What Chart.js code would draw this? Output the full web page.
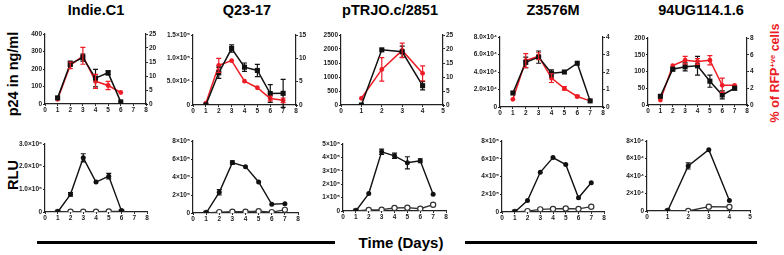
<!DOCTYPE html>
<html><head><meta charset="utf-8">
<script src="https://cdn.jsdelivr.net/npm/chart.js@4"></script>
<style>
body{margin:0;width:784px;height:255px;background:#fff;position:relative;overflow:hidden;font-family:'Liberation Sans',Arial,sans-serif;}
canvas{position:absolute;}
.t{position:absolute;font-weight:bold;white-space:nowrap;transform:translate(-50%,-50%);color:#000;line-height:1;}
.r{transform:translate(-50%,-50%) rotate(-90deg);}
.hl{position:absolute;height:3px;background:#000;}
sup{font-size:60%;vertical-align:55%;}
</style></head><body>
<div class="t" style="left:96px;top:10px;font-size:14.5px">Indie.C1</div>
<div class="t" style="left:247px;top:10px;font-size:14.5px">Q23-17</div>
<div class="t" style="left:390px;top:10px;font-size:14.5px">pTRJO.c/2851</div>
<div class="t" style="left:553px;top:10px;font-size:14.5px">Z3576M</div>
<div class="t" style="left:701px;top:10px;font-size:14.5px">94UG114.1.6</div>
<div class="t r" style="left:13px;top:74px;font-size:14.5px">p24 in ng/ml</div>
<div class="t r" style="left:13px;top:175px;font-size:14.5px">RLU</div>
<div class="t r" style="left:775px;top:73px;font-size:12.5px;color:#ee1c25">% of RFP<sup>+ve</sup> cells</div>
<div class="hl" style="left:37px;top:241px;width:298px"></div>
<div class="hl" style="left:465px;top:241px;width:292px"></div>
<div class="t" style="left:401px;top:242px;font-size:15px">Time (Days)</div>

<script>
// ---------- DATA ----------
const days4 = [1,2,3,4];
const days6 = [1,2,3,4,5,6];
const days7 = [1,2,3,4,5,6,7];

// Indie.C1
const indieP24     = [35,230,265,148,178,12];
const indieP24Err  = [0,15,20,50,12,0];
const indieRFP     = [1.7,13.8,17.2,8.1,6.6,4.1];
const indieRFPErr  = [0,1.2,3,2.5,1.5,0];
const indieRLU     = [0,0.78e6,2.39e6,1.32e6,1.58e6,0.05e6];
const indieRLUErr  = [0,0.08e6,0.18e6,0,0.12e6,0];
const indieRLUCtl  = [0,0.01e6,0.01e6,0.01e6,0.02e6,0.02e6];

// Q23-17
const q23P24      = [0,6.9e4,1.21e5,8.1e4,7.4e4,2.45e4,2.5e4];
const q23P24Err   = [0,1.2e4,0.8e4,0.9e4,1.3e4,1.9e4,3e4];
const q23RFP      = [0.4,8.5,9.5,5.1,3.7,1.4,1.0];
const q23RFPErr   = [0,1.5,0,0,0,0.5,0.5];
const q23RLU      = [0,2.3e5,5.6e5,5.15e5,3.45e5,0.97e5,1.04e5];
const q23RLUErr   = [0,0.3e5,0.2e5,0,0,0,0];
const q23RLUCtl   = [0,0.1e5,0.15e5,0.15e5,0.2e5,0.1e5,0.35e5];

// pTRJO.c/2851
const ptrjoP24     = [0,1970,1900,690];
const ptrjoP24Err  = [0,0,200,150];
const ptrjoRFP     = [2.4,12.7,19.5,11.3];
const ptrjoRFPErr  = [0,4.2,2.6,2.7];
const ptrjoRLU     = [0,1.3e5,4.42e5,4.12e5,3.6e5,3.75e5,1.25e5];
const ptrjoRLUErr  = [0,0,0.2e5,0.2e5,0.45e5,0.15e5,0];
const ptrjoRLUCtl  = [0,0.07e5,0.1e5,0.22e5,0.25e5,0.17e5,0.47e5];

// Z3576M
const zP24     = [1.6e4,5.1e4,5.7e4,3.85e4,4.0e4,5.0e4,0.7e4];
const zP24Err  = [0,0.6e4,0.7e4,0.4e4,0,0,0];
const zRFP     = [0.44,2.65,2.9,1.65,1.06,0.6,0.35];
const zRFPErr  = [0,0.4,0.2,0.25,0.1,0.07,0];
const zRLU     = [0,1.3e5,4.47e5,6.13e5,5.34e5,1.6e5,3.3e5];
const zRLUErr  = [0,0,0,0,0,0,0];
const zRLUCtl  = [0,0.1e5,0.3e5,0.35e5,0.4e5,0.35e5,0.6e5];

// 94UG114.1.6
const ugP24     = [26,107,114,117,71,30,50];
const ugP24Err  = [0,5,12,28,18,12,5];
const ugRFP     = [0.6,4.7,5.35,5.2,5.35,2.35,2.35];
const ugRFPErr  = [0,0,0.45,0.35,0.55,0.85,0];
const ugRLU     = [0,5.15e4,7.0e4,1.2e4];
const ugRLUErr  = [0,0.35e4,0,0];
const ugRLUCtl  = [0,0,0.5e4,0.45e4];

// tick labels
const indieLeftTicks  = ["0","100","200","300","400"];
const indieRightTicks = ["0","5","10","15","20","25"];
const q23LeftTicks    = ["0","5.0×10⁴","1.0×10⁵","1.5×10⁵"];
const q23RightTicks   = ["0","5","10","15"];
const ptrjoLeftTicks  = ["0","500","1000","1500","2000","2500"];
const ptrjoRightTicks = ["0","5","10","15","20","25"];
const zLeftTicks      = ["0","2.0×10⁴","4.0×10⁴","6.0×10⁴","8.0×10⁴"];
const zRightTicks     = ["0","1","2","3","4"];
const ugLeftTicks     = ["0","50","100","150","200"];
const ugRightTicks    = ["0","2","4","6","8"];
const indieRLUTicks   = ["0","1.0×10⁶","2.0×10⁶","3.0×10⁶"];
const q23RLUTicks     = ["0","2×10⁵","4×10⁵","6×10⁵","8×10⁵"];
const ptrjoRLUTicks   = ["0","1×10⁵","2×10⁵","3×10⁵","4×10⁵","5×10⁵"];
const zRLUTicks       = ["0","2×10⁵","4×10⁵","6×10⁵","8×10⁵"];
const ugRLUTicks      = ["0","2×10⁴","4×10⁴","6×10⁴","8×10⁴"];

// ---------- CHARTS ----------
const RED = '#ee1c25', BLK = '#111';
const tickFont = {family:"'Liberation Sans', Arial, sans-serif", size:6.5, weight:'bold'};

const errPlugin = {
  id:'errbars',
  afterDatasetsDraw(chart){
    const ctx = chart.ctx;
    chart.data.datasets.forEach((ds,di)=>{
      if(!ds.err) return;
      const meta = chart.getDatasetMeta(di);
      const ys = chart.scales[ds.yAxisID||'y'];
      ctx.save();
      ctx.strokeStyle = ds.borderColor; ctx.lineWidth = 1.2;
      ds.data.forEach((p,i)=>{
        const e = ds.err[i]; if(!e) return;
        const x = meta.data[i].x;
        const y1 = ys.getPixelForValue(p.y+e), y2 = ys.getPixelForValue(p.y-e);
        ctx.beginPath();
        ctx.moveTo(x,y1); ctx.lineTo(x,y2);
        ctx.moveTo(x-2.5,y1); ctx.lineTo(x+2.5,y1);
        ctx.moveTo(x-2.5,y2); ctx.lineTo(x+2.5,y2);
        ctx.stroke();
      });
      ctx.restore();
    });
  }
};

function pts(xs, ys){ return xs.map((x,i)=>({x, y:ys[i]})); }

function yAxis(pos, max, step, labels, color){
  return {
    type:'linear', position:pos, min:0, max, 
    ticks:{stepSize:step, font:tickFont, color:'#222', padding:1, autoSkip:false,
      callback:(v,i)=>labels[i]},
    grid:{display:true, drawOnChartArea:false, drawTicks:true, tickLength:2, color:'#222', lineWidth:1},
    border:{display:true, color:'#222', width:1.2},
    afterFit:(s)=>{ s.width = pos==='left' ? 40 : 22; }
  };
}
function xAxis(max){
  return {
    type:'linear', min:0, max,
    ticks:{stepSize:1, font:tickFont, color:'#222', padding:0, autoSkip:false, maxRotation:0},
    grid:{display:true, drawOnChartArea:false, drawTicks:true, tickLength:2, color:'#222', lineWidth:1},
    border:{display:true, color:'#222', width:1.2},
    afterFit:(s)=>{ s.height = 16; }
  };
}

function makeChart(area, datasets, scales, rightW){
  const [L,R,T,B] = area;
  const c = document.createElement('canvas');
  const w = Math.round(R-L) + 40 + rightW, h = Math.round(B-T) + 8 + 16;
  c.width = w; c.height = h;
  c.style.left = (L-40)+'px'; c.style.top = (T-8)+'px';
  c.style.width = w+'px'; c.style.height = h+'px';
  document.body.appendChild(c);
  new Chart(c, {
    type:'line',
    data:{datasets},
    options:{
      responsive:false, animation:false, devicePixelRatio:1,
      layout:{padding:{top:8,left:0,right:rightW===22?0:rightW,bottom:0}},
      plugins:{legend:{display:false}, tooltip:{enabled:false}},
      scales
    },
    plugins:[errPlugin]
  });
}

function p24ds(xs, v, e){ return {data:pts(xs,v), err:e, yAxisID:'y', borderColor:BLK, backgroundColor:BLK,
  borderWidth:1.5, pointStyle:'rect', pointRadius:3.6, pointBorderWidth:0, tension:0, order:1}; }
function rfpds(xs, v, e){ return {data:pts(xs,v), err:e, yAxisID:'y2', borderColor:RED, backgroundColor:RED,
  borderWidth:1.5, pointStyle:'circle', pointRadius:2.4, pointBorderWidth:0, tension:0, order:2}; }
function rluds(xs, v, e){ return {data:pts(xs,v), err:e, yAxisID:'y', borderColor:BLK, backgroundColor:BLK,
  borderWidth:1.4, pointStyle:'circle', pointRadius:2.5, pointBorderWidth:0, tension:0, order:1}; }
function ctlds(xs, v){ return {data:pts(xs,v), yAxisID:'y', borderColor:'#333', backgroundColor:'#fff',
  borderWidth:1.4, pointStyle:'circle', pointRadius:2.6, pointBorderWidth:1.2, pointBorderColor:'#333', pointBackgroundColor:'#fff', tension:0, order:2}; }

const topAreas = [[45,146,34,104],[193,296,34.5,104],[341,443,35,104.5],[500,603,36.5,106],[648,747,37.5,104]];
const botAreas = [[44.5,146,144.3,212.7],[193.3,298,140.7,212.7],[343.3,446.7,144.3,211.7],[502.3,604,140.7,211.7],[646.7,750,140.7,211]];

// top row
makeChart(topAreas[0], [p24ds(days6,indieP24,indieP24Err), rfpds(days6,indieRFP,indieRFPErr)],
  {x:xAxis(8), y:yAxis('left',400,100,indieLeftTicks), y2:yAxis('right',25,5,indieRightTicks)}, 22);
makeChart(topAreas[1], [p24ds(days7,q23P24,q23P24Err), rfpds(days7,q23RFP,q23RFPErr)],
  {x:xAxis(8), y:yAxis('left',1.5e5,5e4,q23LeftTicks), y2:yAxis('right',15,5,q23RightTicks)}, 22);
makeChart(topAreas[2], [p24ds(days4,ptrjoP24,ptrjoP24Err), rfpds(days4,ptrjoRFP,ptrjoRFPErr)],
  {x:xAxis(5), y:yAxis('left',2500,500,ptrjoLeftTicks), y2:yAxis('right',25,5,ptrjoRightTicks)}, 22);
makeChart(topAreas[3], [p24ds(days7,zP24,zP24Err), rfpds(days7,zRFP,zRFPErr)],
  {x:xAxis(8), y:yAxis('left',8e4,2e4,zLeftTicks), y2:yAxis('right',4,1,zRightTicks)}, 22);
makeChart(topAreas[4], [p24ds(days7,ugP24,ugP24Err), rfpds(days7,ugRFP,ugRFPErr)],
  {x:xAxis(8), y:yAxis('left',200,50,ugLeftTicks), y2:yAxis('right',8,2,ugRightTicks)}, 22);

// bottom row
makeChart(botAreas[0], [rluds(days6,indieRLU,indieRLUErr), ctlds(days6,indieRLUCtl)],
  {x:xAxis(8), y:yAxis('left',3e6,1e6,indieRLUTicks)}, 10);
makeChart(botAreas[1], [rluds(days7,q23RLU,q23RLUErr), ctlds(days7,q23RLUCtl)],
  {x:xAxis(8), y:yAxis('left',8e5,2e5,q23RLUTicks)}, 10);
makeChart(botAreas[2], [rluds(days7,ptrjoRLU,ptrjoRLUErr), ctlds(days7,ptrjoRLUCtl)],
  {x:xAxis(8), y:yAxis('left',5e5,1e5,ptrjoRLUTicks)}, 10);
makeChart(botAreas[3], [rluds(days7,zRLU,zRLUErr), ctlds(days7,zRLUCtl)],
  {x:xAxis(8), y:yAxis('left',8e5,2e5,zRLUTicks)}, 10);
makeChart(botAreas[4], [rluds(days4,ugRLU,ugRLUErr), ctlds(days4,ugRLUCtl)],
  {x:xAxis(5), y:yAxis('left',8e4,2e4,ugRLUTicks)}, 10);
</script>
</body></html>
